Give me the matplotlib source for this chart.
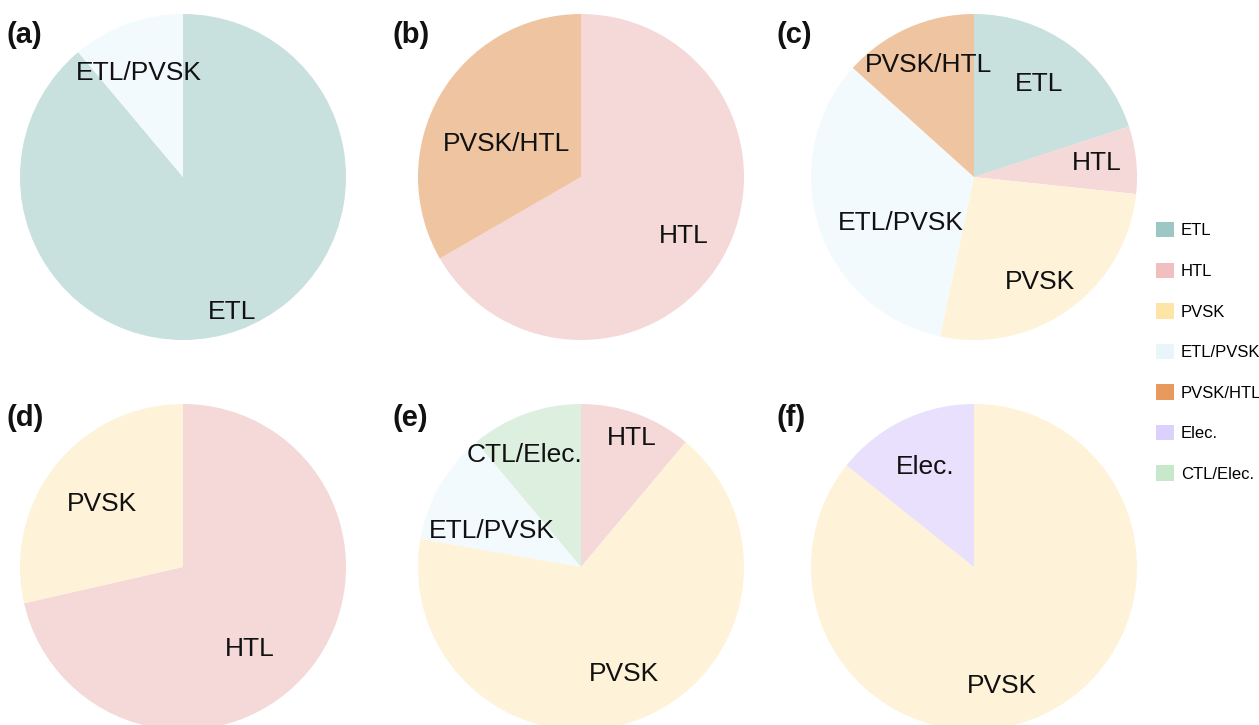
import numpy as np
import matplotlib
matplotlib.use("Agg")
import matplotlib.pyplot as plt
from matplotlib.patches import Patch

plt.rcParams['font.family'] = ['Liberation Sans', 'DejaVu Sans']

# ---- data (clockwise from 12 o'clock) ----
panel_names = ['(a)', '(b)', '(c)', '(d)', '(e)', '(f)']
a_labels = ['ETL', 'ETL/PVSK']
a_values = [8, 1]
b_labels = ['HTL', 'PVSK/HTL']
b_values = [2, 1]
c_labels = ['ETL', 'HTL', 'PVSK', 'ETL/PVSK', 'PVSK/HTL']
c_values = [3, 1, 4, 5, 2]
d_labels = ['HTL', 'PVSK']
d_values = [5, 2]
e_labels = ['HTL', 'PVSK', 'ETL/PVSK', 'CTL/Elec.']
e_values = [1, 6, 1, 1]
f_labels = ['PVSK', 'Elec.']
f_values = [6, 1]

legend_labels = ['ETL', 'HTL', 'PVSK', 'ETL/PVSK', 'PVSK/HTL', 'Elec.', 'CTL/Elec.']

# ---- styles ----
legend_colors = {'ETL': '#9CC7C5', 'HTL': '#F0C0C0', 'PVSK': '#FDE5A8',
                 'ETL/PVSK': '#E8F6FA', 'PVSK/HTL': '#E8995E',
                 'Elec.': '#DCD0FC', 'CTL/Elec.': '#C8E8CC'}
pie_colors = {'ETL': '#C8E0DE', 'HTL': '#F5D8D8', 'PVSK': '#FEF3D8',
              'ETL/PVSK': '#F3FAFD', 'PVSK/HTL': '#EFC4A0',
              'Elec.': '#E8E0FC', 'CTL/Elec.': '#DDF0DF'}

# label placement: (radius fraction, angle clockwise from top in degrees)
label_pos = [
    [(0.88, 160), (0.69, 337)],
    [(0.73, 120), (0.50, 294)],
    [(0.70, 35), (0.76, 83.5), (0.76, 148), (0.53, 238), (0.74, 338)],
    [(0.65, 141), (0.63, 308)],
    [(0.85, 21.6), (0.71, 158), (0.59, 292), (0.77, 333)],
    [(0.75, 167), (0.68, 334)],
]

W, H = 1259, 725
centers = [(183, 177), (581, 177), (974, 177),
           (183, 567), (581, 567), (974, 567)]
R = 163
panel_xy = [(6, 35), (393, 35), (776, 35), (6, 418), (393, 418), (776, 418)]

fig = plt.figure(figsize=(W / 100, H / 100), dpi=100)

pies = [(a_labels, a_values), (b_labels, b_values), (c_labels, c_values),
        (d_labels, d_values), (e_labels, e_values), (f_labels, f_values)]

for i, (labs, vals) in enumerate(pies):
    cx, cy = centers[i]
    ax = fig.add_axes([(cx - R) / W, (H - cy - R) / H, 2 * R / W, 2 * R / H])
    ax.pie(vals, colors=[pie_colors[l] for l in labs], startangle=90,
           counterclock=False, radius=1,
           wedgeprops=dict(linewidth=0, edgecolor='none'))
    ax.set_xlim(-1, 1)
    ax.set_ylim(-1, 1)
    ax.set_aspect('equal')
    ax.axis('off')
    for lab, (r, ang) in zip(labs, label_pos[i]):
        t = np.deg2rad(ang)
        ax.text(r * np.sin(t), r * np.cos(t), lab, ha='center', va='center',
                fontsize=19, color='#111111')
    px, py = panel_xy[i]
    fig.text(px / W, 1 - py / H, panel_names[i], fontsize=21,
             fontweight='bold', ha='left', va='center', color='#111111')

handles = [Patch(facecolor=legend_colors[l], edgecolor='none') for l in legend_labels]
fig.legend(handles, legend_labels, loc='upper left',
           bbox_to_anchor=(1156 / W, 1 - 222 / H), frameon=False,
           fontsize=12, handlelength=1.05, handleheight=1.05,
           handletextpad=0.45, labelspacing=1.45, borderpad=0,
           borderaxespad=0)

fig.savefig('out.png', dpi=100)
